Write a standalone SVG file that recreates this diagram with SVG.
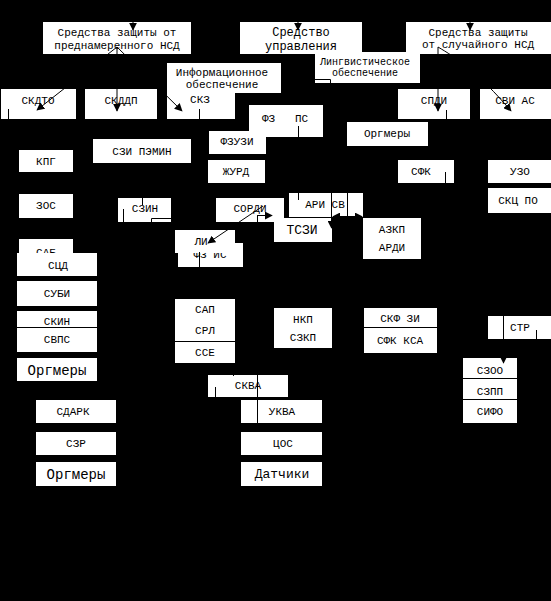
<svg xmlns="http://www.w3.org/2000/svg" width="551" height="601" viewBox="0 0 551 601">
<defs>
<style>
.b{fill:#fff}
.t{font-family:"Liberation Mono","DejaVu Sans Mono",monospace;font-size:11px;fill:#000;text-anchor:middle}
.l{font-size:13px}
.m{font-size:12px}
.xl{font-size:14px}
.s{font-size:10px}
.c{stroke:#000;stroke-width:1;fill:none}
.d{stroke:#000;stroke-width:1}
</style>
<marker id="ah" viewBox="0 0 10 10" refX="9" refY="5" markerWidth="8" markerHeight="8" orient="auto" markerUnits="userSpaceOnUse">
<path d="M0,0L10,5L0,10z" fill="#000"/>
</marker>
<marker id="as" viewBox="0 0 10 10" refX="1" refY="5" markerWidth="8" markerHeight="8" orient="auto" markerUnits="userSpaceOnUse">
<path d="M10,0L0,5L10,10z" fill="#000"/>
</marker>
</defs>
<rect x="0" y="0" width="551" height="601" fill="#000"/>

<g id="n-prednam"><rect class="b" x="43" y="22" width="148" height="32"/><text class="t" x="117" y="36">Средства защиты от</text><text class="t" x="117" y="49">преднамеренного НСД</text></g>
<g id="n-upr"><rect class="b" x="240" y="22" width="122" height="32"/><text class="t m" x="301" y="36">Средство</text><text class="t m" x="301" y="50">управления</text></g>
<g id="n-sluch"><rect class="b" x="406" y="22" width="145" height="32"/><text class="t" x="478" y="36">Средства защиты</text><text class="t" x="478" y="48">от случайного НСД</text></g>
<g id="n-info"><rect class="b" x="167" y="63" width="114" height="30"/><text class="t" x="222" y="76">Информационное</text><text class="t" x="222" y="88">обеспечение</text></g>
<g id="n-ling"><rect class="b" x="315" y="52" width="105" height="31"/><text class="t s" x="365" y="65">Лингвистическое</text><text class="t s" x="365" y="76">обеспечение</text></g>
<g id="n-skdto"><rect class="b" x="1" y="89" width="75" height="30"/><text class="t" x="38" y="104">СКДТО</text></g>
<g id="n-skddp"><rect class="b" x="85" y="89" width="72" height="30"/><text class="t" x="121" y="104">СКДДП</text></g>
<g id="n-skz"><rect class="b" x="167" y="93" width="68" height="26"/><text class="t" x="200" y="103">СКЗ</text></g>
<g id="n-spdi"><rect class="b" x="398" y="89" width="72" height="30"/><text class="t" x="434" y="104">СПДИ</text></g>
<g id="n-svi"><rect class="b" x="480" y="89" width="71" height="30"/><text class="t" x="515" y="104">СВИ АС</text></g>
<g id="n-fzps"><rect class="b" x="249" y="105" width="74" height="32"/><text class="t" x="285" y="122" xml:space="preserve">ФЗ   ПС</text></g>
<g id="n-org1"><rect class="b" x="347" y="122" width="81" height="24"/><text class="t" x="387" y="137">Оргмеры</text></g>
<g id="n-fzuzi"><rect class="b" x="209" y="131" width="57" height="23"/><text class="t" x="237" y="145">ФЗУЗИ</text></g>
<g id="n-pemin"><rect class="b" x="93" y="139" width="98" height="24"/><text class="t" x="142" y="155">СЗИ ПЭМИН</text></g>
<g id="n-kpg"><rect class="b" x="19" y="150" width="54" height="22"/><text class="t" x="46" y="165">КПГ</text></g>
<g id="n-zhurd"><rect class="b" x="208" y="160" width="57" height="23"/><text class="t" x="236" y="175">ЖУРД</text></g>
<g id="n-sfk"><rect class="b" x="398" y="160" width="56" height="23"/><text class="t" x="421" y="175">СФК</text></g>
<g id="n-uzo"><rect class="b" x="488" y="160" width="63" height="23"/><text class="t" x="520" y="175">УЗО</text></g>
<g id="n-skcpo"><rect class="b" x="488" y="188" width="63" height="25"/><text class="t" x="518" y="204">СКЦ ПО</text></g>
<g id="n-zos"><rect class="b" x="19" y="194" width="54" height="24"/><text class="t" x="46" y="209">ЗОС</text></g>
<g id="n-szin"><rect class="b" x="118" y="198" width="53" height="24"/><text class="t" x="145" y="212">СЗИН</text></g>
<g id="n-sordi"><rect class="b" x="216" y="198" width="68" height="24"/><text class="t" x="250" y="212">СОРДИ</text></g>
<g id="n-arisv"><rect class="b" x="289" y="193" width="74" height="24"/><text class="t" x="325" y="208">АРИ СВ</text></g>
<g id="n-tszi"><rect class="b" x="274" y="218" width="58" height="24"/><text class="t l" x="302" y="234">ТСЗИ</text></g>
<g id="n-azkp"><rect class="b" x="363" y="218" width="58" height="41"/><text class="t" x="392" y="233">АЗКП</text><text class="t" x="392" y="251">АРДИ</text></g>
<g id="n-fzis"><rect class="b" x="178" y="243" width="65" height="24"/><text class="t" x="210" y="258">ФЗ ИС</text></g>
<g id="n-li"><rect class="b" x="175" y="230" width="60" height="23"/><text class="t" x="201" y="245">ЛИ</text></g>
<g id="n-sab"><rect class="b" x="19" y="239" width="54" height="23"/><text class="t" x="46" y="256">САБ</text></g>
<g id="n-scd"><rect class="b" x="17" y="253" width="80" height="23"/><text class="t" x="58" y="269">СЦД</text></g>
<g id="n-subi"><rect class="b" x="17" y="281" width="80" height="25"/><text class="t" x="57" y="297">СУБИ</text></g>
<g id="n-skin"><rect class="b" x="17" y="311" width="80" height="41"/><line class="d" x1="17" y1="327.5" x2="97" y2="327.5"/><text class="t" x="57" y="325">СКИН</text><text class="t" x="57" y="343">СВПС</text></g>
<g id="n-org2"><rect class="b" x="17" y="358" width="80" height="23"/><text class="t xl" x="57" y="375">Оргмеры</text></g>
<g id="n-sap"><rect class="b" x="175" y="299" width="60" height="64"/><line class="d" x1="175" y1="341.5" x2="235" y2="341.5"/><text class="t" x="205" y="313">САП</text><text class="t" x="205" y="334">СРЛ</text><text class="t" x="205" y="356">ССЕ</text></g>
<g id="n-nkp"><rect class="b" x="274" y="308" width="58" height="40"/><text class="t" x="303" y="323">НКП</text><text class="t" x="303" y="341">СЗКП</text></g>
<g id="n-skf"><rect class="b" x="364" y="308" width="73" height="45"/><line class="d" x1="364" y1="327.5" x2="437" y2="327.5"/><text class="t" x="400" y="322">СКФ ЗИ</text><text class="t" x="400" y="344">СФК КСА</text></g>
<g id="n-str"><rect class="b" x="488" y="316" width="63" height="23"/><text class="t" x="520" y="331">СТР</text></g>
<g id="n-szoo"><rect class="b" x="463" y="358" width="54" height="65"/><line class="d" x1="463" y1="378.5" x2="517" y2="378.5"/><line class="d" x1="463" y1="399.5" x2="517" y2="399.5"/><text class="t" x="490" y="374">СЗОО</text><text class="t" x="490" y="395">СЗПП</text><text class="t" x="490" y="415">СИФО</text></g>
<g id="n-skva"><rect class="b" x="208" y="375" width="80" height="22"/><text class="t" x="248" y="389">СКВА</text></g>
<g id="n-sdark"><rect class="b" x="36" y="400" width="80" height="23"/><text class="t" x="73" y="415">СДАРК</text></g>
<g id="n-ukva"><rect class="b" x="241" y="400" width="81" height="23"/><text class="t" x="282" y="415">УКВА</text></g>
<g id="n-szr"><rect class="b" x="36" y="432" width="80" height="23"/><text class="t" x="76" y="447">СЗР</text></g>
<g id="n-cos"><rect class="b" x="241" y="432" width="81" height="23"/><text class="t" x="283" y="447">ЦОС</text></g>
<g id="n-org3"><rect class="b" x="36" y="462" width="80" height="24"/><text class="t xl" x="76" y="479">Оргмеры</text></g>
<g id="n-datch"><rect class="b" x="241" y="462" width="81" height="24"/><text class="t l" x="282" y="478">Датчики</text></g>

<g id="connectors">
<line class="c" x1="133" y1="12" x2="133" y2="30" marker-end="url(#ah)"/>
<line class="c" x1="298" y1="12" x2="298" y2="30" marker-end="url(#ah)"/>
<line class="c" x1="470" y1="12" x2="470" y2="30" marker-end="url(#ah)"/>
<line class="c" x1="117" y1="47" x2="37" y2="110" marker-end="url(#ah)"/>
<line class="c" x1="117" y1="47" x2="117" y2="111" marker-end="url(#ah)"/>
<line class="c" x1="117" y1="47" x2="182" y2="111" marker-end="url(#ah)"/>
<line class="c" x1="438" y1="47" x2="438" y2="111" marker-end="url(#ah)"/>
<path class="c" d="M438,47C455,57 478,72 511,111" marker-end="url(#ah)"/>
<line class="c" x1="8.5" y1="109" x2="8.5" y2="119"/>
<line class="c" x1="199.5" y1="109" x2="199.5" y2="119"/>
<line class="c" x1="446.5" y1="110" x2="446.5" y2="119"/>
<line class="c" x1="298.5" y1="126" x2="298.5" y2="200"/>
<polyline class="c" points="315,79.5 330.5,79.5 330.5,83"/>
<line class="c" x1="445.5" y1="172" x2="445.5" y2="183"/>
<line class="c" x1="142.5" y1="163" x2="142.5" y2="205"/>
<line class="c" x1="123.5" y1="209" x2="123.5" y2="222"/>
<polyline class="c" points="171,218.5 151.5,218.5 151.5,222"/>
<line class="c" x1="257" y1="215.5" x2="272" y2="215.5" marker-end="url(#ah)"/>
<line class="c" x1="257.5" y1="215" x2="257.5" y2="222"/>
<line class="c" x1="263" y1="206" x2="208" y2="243" marker-end="url(#ah)"/>
<line class="c" x1="199.5" y1="252" x2="199.5" y2="267"/>
<line class="c" x1="331.5" y1="193" x2="331.5" y2="228" marker-end="url(#ah)"/>
<line class="c" x1="347.5" y1="193" x2="347.5" y2="217"/>
<line class="c" x1="333" y1="216.5" x2="362" y2="216.5" marker-start="url(#as)" marker-end="url(#ah)"/>
<line class="c" x1="233.5" y1="363" x2="233.5" y2="376"/>
<line class="c" x1="215.5" y1="387" x2="215.5" y2="397"/>
<line class="c" x1="257.5" y1="375" x2="257.5" y2="423"/>
<line class="c" x1="503.5" y1="316" x2="503.5" y2="339"/>
<line class="c" x1="536.5" y1="330" x2="536.5" y2="339"/>
<line class="c" x1="503.5" y1="339" x2="503.5" y2="363" marker-end="url(#ah)"/>
</g>
</svg>
